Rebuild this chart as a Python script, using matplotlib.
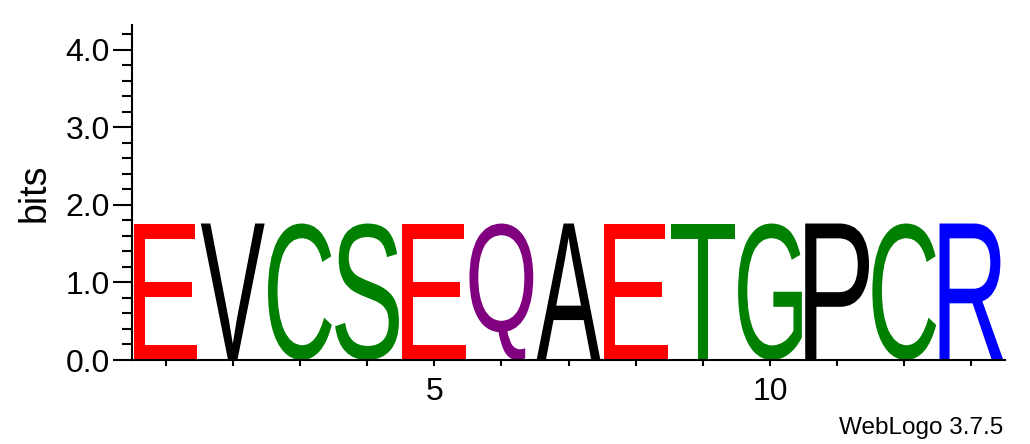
import matplotlib
matplotlib.use("Agg")
import matplotlib.pyplot as plt
from matplotlib.textpath import TextPath
from matplotlib.patches import PathPatch
from matplotlib.font_manager import FontProperties
from matplotlib.transforms import Affine2D
from matplotlib.ticker import MultipleLocator, FixedLocator

positions = [1, 2, 3, 4, 5, 6, 7, 8, 9, 10, 11, 12, 13]
letters = ["E", "V", "C", "S", "E", "Q", "A", "E", "T", "G", "P", "C", "R"]
heights = [1.76, 1.76, 1.76, 1.76, 1.76, 1.76, 1.76, 1.76, 1.76, 1.76, 1.76, 1.76, 1.76]
colors = {"E": "#FF0000", "V": "#000000", "C": "#008000", "S": "#008000",
          "Q": "#800080", "A": "#000000", "T": "#008000", "G": "#008000",
          "P": "#000000", "R": "#0000FF"}
x_tick_labels = {5: "5", 10: "10"}
y_major = [0.0, 1.0, 2.0, 3.0, 4.0]

plt.rcParams['font.family'] = ['Liberation Sans', 'DejaVu Sans']

fig = plt.figure(figsize=(10.30, 4.44), dpi=100)
ax = fig.add_axes([132/1030, 1 - 360/444, (1005-132)/1030, (360-25)/444])

fp = FontProperties(family="Liberation Sans")
letter_width = 0.95
for pos, ch, h in zip(positions, letters, heights):
    tp = TextPath((0, 0), ch, size=1, prop=fp)
    ext = tp.get_extents()
    sx = letter_width / ext.width
    sy = h / ext.height
    tr = Affine2D().translate(-ext.x0, -ext.y0).scale(sx, sy).translate(pos - letter_width/2, 0)
    path = tr.transform_path(tp)
    ax.add_patch(PathPatch(path, facecolor=colors[ch], edgecolor="none", lw=0))

ax.set_xlim(0.5, 13.5)
ax.set_ylim(0, 4.32)
for s in ["top", "right"]:
    ax.spines[s].set_visible(False)
for s in ["left", "bottom"]:
    ax.spines[s].set_linewidth(1.5)

ax.yaxis.set_major_locator(FixedLocator(y_major))
ax.yaxis.set_minor_locator(MultipleLocator(0.2))
ax.set_yticklabels([f"{v:.1f}" for v in y_major])
ax.tick_params(axis="y", which="major", length=14, width=1.5, pad=2, labelsize=23, direction="out")
ax.tick_params(axis="y", which="minor", length=7, width=1.5, direction="out")

ax.xaxis.set_major_locator(FixedLocator(positions))
ax.set_xticklabels([x_tick_labels.get(p, "") for p in positions])
ax.tick_params(axis="x", which="major", length=4, width=1.5, pad=8, labelsize=23, direction="out")

ax.set_ylabel("bits", fontsize=27, labelpad=9)
fig.text(1003/1030, 1 - 428/444, "WebLogo 3.7.5", ha="right", va="center", fontsize=17.5)

fig.savefig("out.png", dpi=100)
